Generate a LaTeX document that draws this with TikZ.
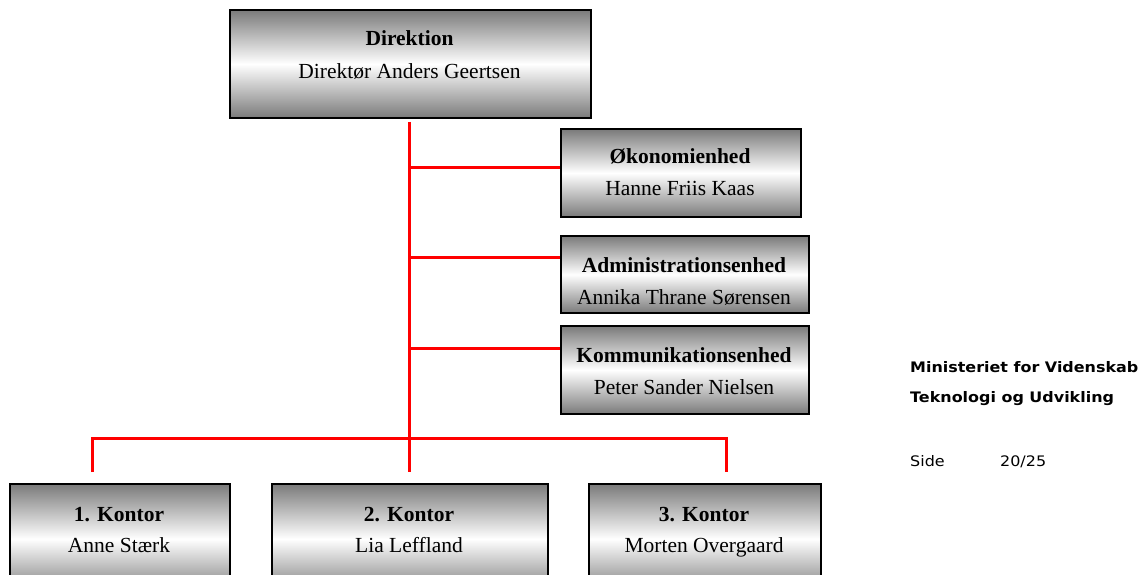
\documentclass[tikz,border=0pt]{standalone}
\usepackage{fontspec}
\setmainfont{Liberation Serif}
\newfontfamily\verd[FakeStretch=1.1]{DejaVu Sans}
\begin{document}
\begin{tikzpicture}[x=1pt,y=-1pt,
  box/.style={draw=black, line width=2pt, top color=black!52, bottom color=black!52, middle color=white, anchor=north west, inner sep=0pt},
  lbl/.style={anchor=base, inner sep=0pt, font=\fontsize{21.5}{24}\selectfont},
  side/.style={anchor=base west, inner sep=0pt, font=\verd\fontsize{14.5}{17}\selectfont},
  con/.style={draw=red, line width=3pt}]
\clip (0,0) rectangle (1141,575);
\fill[white] (0,0) rectangle (1141,575);
% boxes
\node[box, minimum width=361pt, minimum height=108pt] (dir) at (229,9) {};
\node[box, minimum width=240pt, minimum height=88pt] (oko) at (560,128) {};
\node[box, minimum width=248pt, minimum height=77pt] (adm) at (560,235) {};
\node[box, minimum width=248pt, minimum height=88pt] (kom) at (560,325) {};
\node[box, minimum width=220pt, minimum height=110pt] (k1) at (9,483) {};
\node[box, minimum width=276pt, minimum height=110pt] (k2) at (271,483) {};
\node[box, minimum width=232pt, minimum height=110pt] (k3) at (588,483) {};
% texts
\node[lbl] (dirA) at (409.5,46) {\textbf{Direktion}};
\node[lbl] (dirB) at (409.5,79) {Direktør Anders Geertsen};
\node[lbl] (okoA) at (680,164) {\textbf{Økonomienhed}};
\node[lbl] (okoB) at (680,196) {Hanne Friis Kaas};
\node[lbl] (admA) at (684,272) {\textbf{Administrationsenhed}};
\node[lbl] (admB) at (684,304) {Annika Thrane Sørensen};
\node[lbl] (komA) at (684,362) {\textbf{Kommunikationsenhed}};
\node[lbl] (komB) at (684,394) {Peter Sander Nielsen};
\node[lbl] (k1A) at (119,521) {\textbf{1. Kontor}};
\node[lbl] (k1B) at (119,552) {Anne Stærk};
\node[lbl] (k2A) at (409,521) {\textbf{2. Kontor}};
\node[lbl] (k2B) at (409,552) {Lia Leffland};
\node[lbl] (k3A) at (704,521) {\textbf{3. Kontor}};
\node[lbl] (k3B) at (704,552) {Morten Overgaard};
% side texts
\node[side] (min1) at (910,372) {\bfseries Ministeriet for Videnskab};
\node[side] (min2) at (910,402) {\bfseries Teknologi og Udvikling};
\node[side] (pg1) at (910,466) {Side};
\node[side] (pg2) at (1000,466) {20/25};
% connectors
\coordinate (top) at (409,122);
\coordinate (j1) at (409,168);
\coordinate (j2) at (409,257);
\coordinate (j3) at (409,348);
\coordinate (b1) at (92,438);
\coordinate (b3) at (726,438);
\coordinate (e1) at (92,472);
\coordinate (e2) at (409,472);
\coordinate (e3) at (726,472);
\draw[con] (top) -- (e2);
\draw[con] (j1) -- (j1 -| oko.west);
\draw[con] (j2) -- (j2 -| adm.west);
\draw[con] (j3) -- (j3 -| kom.west);
\draw[con] (e1) -- (b1) -- (b3) -- (e3);
\end{tikzpicture}
\end{document}
